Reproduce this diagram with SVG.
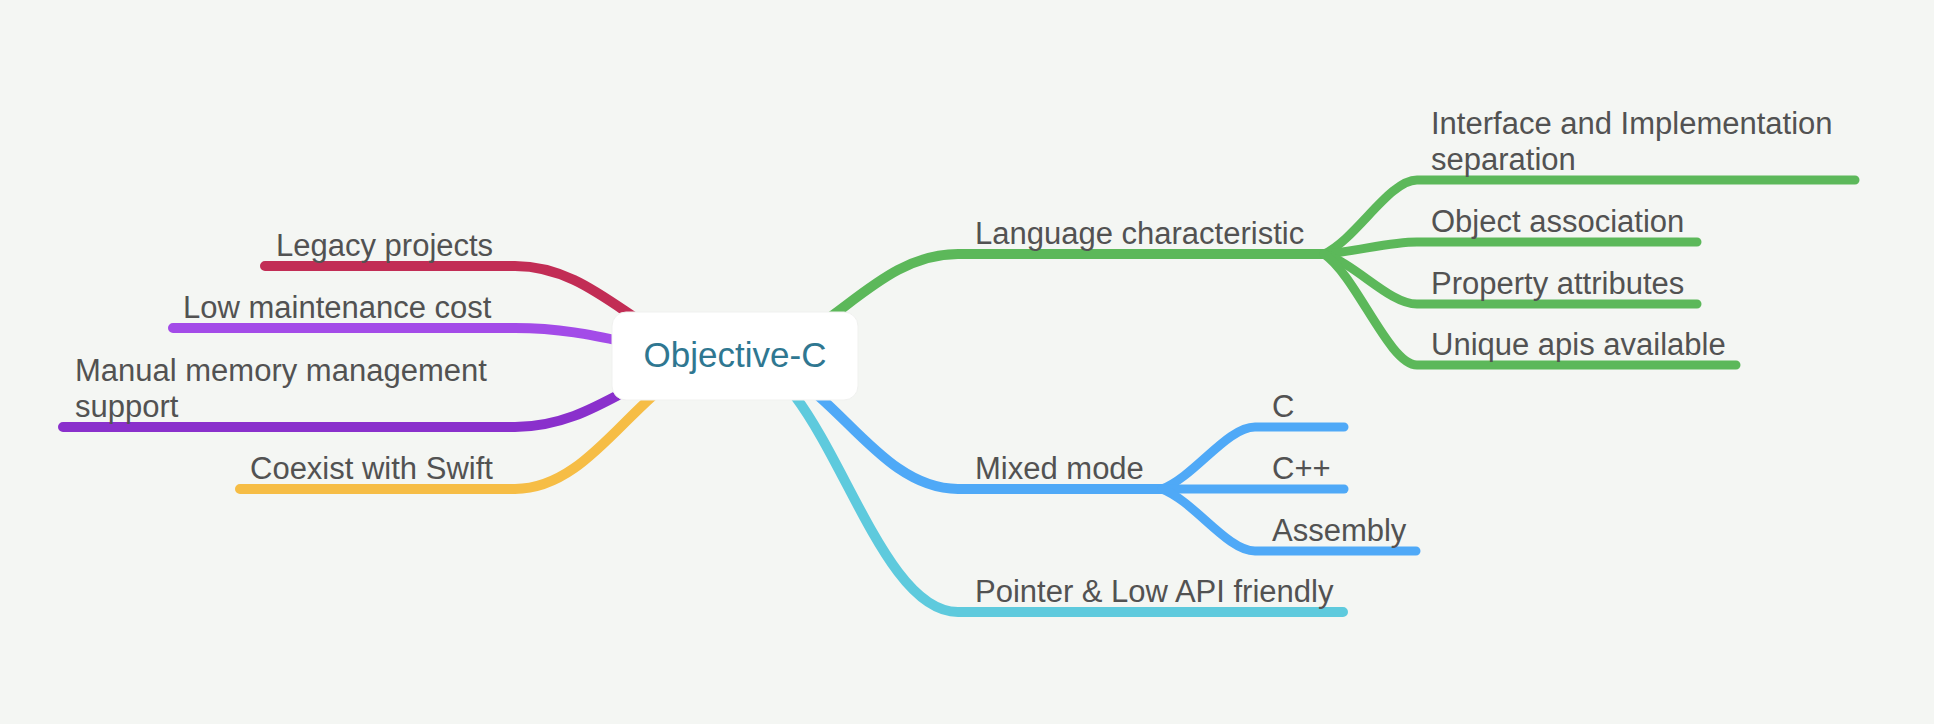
<svg xmlns="http://www.w3.org/2000/svg" width="1934" height="724" viewBox="0 0 1934 724">
<style>
.lbl{font-family:"Liberation Sans",Arial,sans-serif;font-size:31px;fill:#525252}
.root{font-family:"Liberation Sans",Arial,sans-serif;font-size:35px;fill:#2f7791}
.c{fill:none;stroke-linecap:round;stroke-linejoin:round}
.l1{stroke-width:10}
.l2{stroke-width:9}
</style>
<rect x="0" y="0" width="1934" height="724" fill="#f4f6f3"/>
<g id="connectors">
<path class="c l1" stroke="#c22d55" d="M735,356 C647,356 603,266 515,266 L265,266"/>
<path class="c l1" stroke="#a34be8" d="M735,356 C647,356 603,328 515,328 L173,328"/>
<path class="c l1" stroke="#8a30cc" d="M735,356 C647,356 603,427 515,427 L63,427"/>
<path class="c l1" stroke="#f6bd45" d="M735,356 C647,356 603,489 515,489 L240,489"/>
<path class="c l1" stroke="#5cb85a" d="M735,356 C824,356 869,254 958,254 L1324,254"/>
<path class="c l1" stroke="#4fa9f7" d="M735,356 C824,356 869,489 958,489 L1162,489"/>
<path class="c l1" stroke="#5ecadd" d="M735,356 C824,356 869,612 958,612 L1343,612"/>
<path class="c l2" stroke="#5cb85a" d="M1324,254 C1356.5,239 1389,180 1417,180 L1855,180"/>
<path class="c l2" stroke="#5cb85a" d="M1324,254 C1356.5,251.6 1389,242 1417,242 L1697,242"/>
<path class="c l2" stroke="#5cb85a" d="M1324,254 C1356.5,264 1389,304 1417,304 L1697,304"/>
<path class="c l2" stroke="#5cb85a" d="M1324,254 C1356.5,276 1389,365 1417,365 L1736,365"/>
<path class="c l2" stroke="#4fa9f7" d="M1162,489 C1194.5,476.6 1227,427 1255,427 L1344,427"/>
<path class="c l2" stroke="#4fa9f7" d="M1162,489 L1344,489"/>
<path class="c l2" stroke="#4fa9f7" d="M1162,489 C1194.5,501.4 1227,551 1255,551 L1416,551"/>
</g>
<g id="root">
<rect x="612" y="312" width="246" height="88" rx="14" ry="14" fill="#ffffff" stroke="#f0f1ef" stroke-width="1"/>
<text class="root" x="735" y="367" text-anchor="middle">Objective-C</text>
</g>
<g id="legacy"><text class="lbl" x="276" y="256">Legacy projects</text></g>
<g id="lowcost"><text class="lbl" x="183" y="318">Low maintenance cost</text></g>
<g id="manualmem"><text class="lbl" x="75" y="381">Manual memory management</text><text class="lbl" x="75" y="417">support</text></g>
<g id="coexist"><text class="lbl" x="250" y="479">Coexist with Swift</text></g>
<g id="langchar"><text class="lbl" x="975" y="244">Language characteristic</text></g>
<g id="interface"><text class="lbl" x="1431" y="134">Interface and Implementation</text><text class="lbl" x="1431" y="170">separation</text></g>
<g id="objassoc"><text class="lbl" x="1431" y="232">Object association</text></g>
<g id="propattr"><text class="lbl" x="1431" y="294">Property attributes</text></g>
<g id="uniqueapis"><text class="lbl" x="1431" y="355">Unique apis available</text></g>
<g id="mixed"><text class="lbl" x="975" y="479">Mixed mode</text></g>
<g id="c"><text class="lbl" x="1272" y="417">C</text></g>
<g id="cpp"><text class="lbl" x="1272" y="479">C++</text></g>
<g id="assembly"><text class="lbl" x="1272" y="541">Assembly</text></g>
<g id="pointer"><text class="lbl" x="975" y="602">Pointer &amp; Low API friendly</text></g>
</svg>
